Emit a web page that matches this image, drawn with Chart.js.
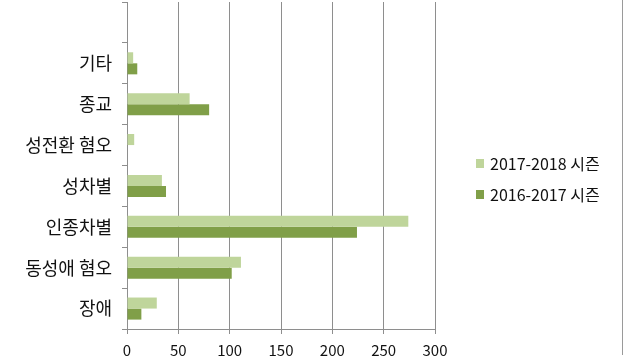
<!DOCTYPE html>
<html>
<head>
<meta charset="utf-8">
<script src="https://cdn.jsdelivr.net/npm/chart.js@4/dist/chart.umd.min.js"></script>
<style>
html,body{margin:0;padding:0;background:#fff;}
#wrap{width:640px;height:360px;position:relative;}
</style>
</head>
<body>
<div id="wrap"><canvas id="c" width="640" height="360"></canvas></div>
<script>
const categories = ['', '기타', '종교', '성전환 혐오', '성차별', '인종차별', '동성애 혐오', '장애'];
const season1718 = [null, 6, 61, 7, 34, 274, 111, 29];
const season1617 = [null, 10, 80, 0, 38, 224, 102, 14];
const seriesNames = ['2017-2018 시즌', '2016-2017 시즌'];
const xTicks = [0, 50, 100, 150, 200, 250, 300];

const FONT = '"Noto Sans CJK KR", "Noto Sans", sans-serif';
const LIGHT = '#bfd59b';
const DARK = '#809f48';
const GRID = '#8e8e8e';
const TEXT = '#111111';

const customLegend = {
  id: 'customLegend',
  afterDraw(chart) {
    const ctx = chart.ctx;
    ctx.save();
    chart.data.datasets.forEach((ds, i) => {
      const y = 163.5 + i * 31;
      ctx.fillStyle = ds.backgroundColor;
      ctx.fillRect(476, y - 4.5, 8, 9);
      ctx.fillStyle = TEXT;
      ctx.font = '16px ' + FONT;
      ctx.textBaseline = 'middle';
      ctx.textAlign = 'left';
      ctx.fillText(ds.label, 490, y + 0.5);
    });
    ctx.strokeStyle = '#9a9a9a';
    ctx.lineWidth = 1;
    ctx.beginPath();
    ctx.moveTo(622.5, 0);
    ctx.lineTo(622.5, 355);
    ctx.stroke();
    ctx.restore();
  }
};

new Chart(document.getElementById('c'), {
  type: 'bar',
  data: {
    labels: categories,
    datasets: [
      { label: seriesNames[0], data: season1718, backgroundColor: LIGHT },
      { label: seriesNames[1], data: season1617, backgroundColor: DARK }
    ]
  },
  options: {
    indexAxis: 'y',
    responsive: false,
    animation: false,
    devicePixelRatio: 1,
    layout: { padding: { left: 10, right: 205, top: 2, bottom: 0 } },
    datasets: { bar: { categoryPercentage: 0.54, barPercentage: 1 } },
    plugins: { legend: { display: false }, tooltip: { enabled: false } },
    scales: {
      x: {
        min: 0, max: 300,
        afterBuildTicks(s) { s.ticks = xTicks.map(v => ({ value: v })); },
        afterFit(s) { s.height = 31; },
        grid: { color: GRID, lineWidth: 1, tickLength: 5, drawTicks: true },
        border: { color: GRID },
        ticks: { color: TEXT, font: { family: FONT, size: 15 }, padding: 7 }
      },
      y: {
        afterFit(s) { s.width = 117; s.paddingTop = 0; s.paddingBottom = 0; },
        grid: { drawOnChartArea: false, drawTicks: true, tickLength: 5, color: GRID, offset: true },
        border: { color: GRID },
        ticks: { color: TEXT, font: { family: FONT, size: 18 }, padding: 10 }
      }
    }
  },
  plugins: [customLegend]
});
</script>
</body>
</html>
